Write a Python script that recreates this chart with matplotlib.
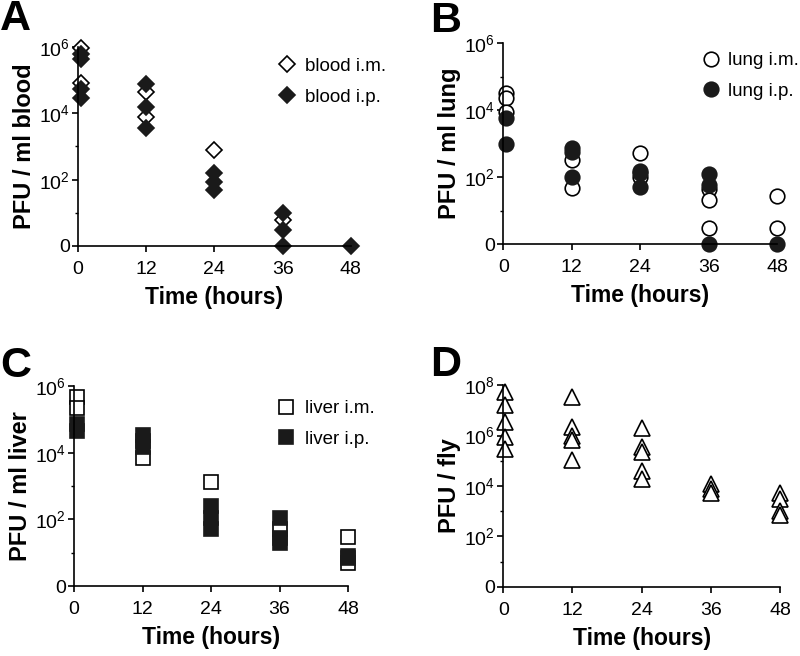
import numpy as np
import matplotlib
matplotlib.use('Agg')
import matplotlib.pyplot as plt
from matplotlib.ticker import FixedLocator, FuncFormatter

plt.rcParams['font.family'] = ['Liberation Sans', 'DejaVu Sans']
plt.rcParams['mathtext.fontset'] = 'custom'
plt.rcParams['mathtext.rm'] = 'Liberation Sans'
plt.rcParams['mathtext.it'] = 'Liberation Sans'

# time points (hours)
times = [0, 12, 24, 36, 48]

# panel A: blood (PFU / ml), one list per time point
blood_im = [[9e5, 8e4], [4.4e4, 8e3], [8e2], [6], []]
blood_ip = [[6e5, 4.2e5, 5.3e4, 2.8e4], [7.5e4, 1.6e4, 3.6e3], [160, 85, 50], [10, 3, 0], [0]]

# panel B: lung
lung_im = [[3.2e4, 2.3e4, 8.7e3], [320, 48], [520, 100], [44, 20, 3], [27, 3]]
lung_ip = [[5.8e3, 1e3], [740, 560, 100], [150, 130, 50], [120, 57, 0], [0]]

# panel C: liver
liver_im = [[4.7e5, 2.2e5], [7e3], [1.3e3], [52], [30, 4.9]]
liver_ip = [[7e4, 4.5e4], [3.5e4, 2.2e4, 1.5e4], [250, 110, 51], [110, 28, 20], [8, 7]]

# panel D: whole fly
fly = [[5.2e7, 1.6e7, 3.5e6, 8.7e5, 3e5],
       [3.3e7, 2.1e6, 9.5e5, 6.6e5, 1.1e5],
       [1.9e6, 3.5e5, 2.2e5, 3.9e4, 1.9e4],
       [1.2e4, 7.4e3, 5.2e3],
       [5.2e3, 3e3, 1e3, 7.4e2]]


def dec(v):
    # log scale with 0 drawn on the baseline
    v = np.asarray(v, dtype=float)
    out = np.zeros_like(v)
    out[v > 0] = np.log10(v[v > 0])
    return out


def flatten(groups, x0_shift):
    xs, ys = [], []
    for t, g in zip(times, groups):
        for v in g:
            xs.append(t + (x0_shift if t == 0 else 0))
            ys.append(v)
    return np.array(xs), dec(ys)


def style_axis(ax, top_dec, ylabel):
    ax.set_xlim(0, 48)
    ax.set_ylim(0, top_dec)
    ax.spines['top'].set_visible(False)
    ax.spines['right'].set_visible(False)
    for s in ['left', 'bottom']:
        ax.spines[s].set_linewidth(1.2)
    ax.set_xticks(times)
    ax.yaxis.set_major_locator(FixedLocator(np.arange(0, top_dec + 1, 2)))
    ax.yaxis.set_minor_locator(FixedLocator(np.arange(1, top_dec, 2)))
    ax.yaxis.set_major_formatter(FuncFormatter(
        lambda y, p: '0' if y == 0 else r'10$^{%d}$' % y))
    ax.tick_params(which='major', length=4, width=1.2, labelsize=14)
    ax.tick_params(axis='x', which='major', pad=6.5)
    ax.tick_params(axis='y', which='major', pad=2)
    ax.tick_params(which='minor', length=2.5, width=1.0)
    ax.set_xlabel('Time (hours)', fontsize=16.5, fontweight='bold', labelpad=6)
    ax.set_ylabel(ylabel, fontsize=17, fontweight='bold', labelpad=2)


fig = plt.figure(figsize=(8, 6.56), dpi=100)
axA = fig.add_axes([0.0975, 0.625, 0.341, 0.3034])
axB = fig.add_axes([0.629, 0.628, 0.3425, 0.3064])
axC = fig.add_axes([0.0925, 0.1067, 0.3425, 0.3049])
axD = fig.add_axes([0.629, 0.1052, 0.346, 0.3079])

leg_kw = dict(frameon=False, fontsize=13.5, handlelength=1.0,
              labelspacing=0.72, borderaxespad=0, borderpad=0, loc='upper left')

# A
x, y = flatten(blood_im, 0.5)
axA.plot(x, y, 'D', ms=8.5, mfc='white', mec='black', mew=1.2, clip_on=False, label='blood i.m.')
x, y = flatten(blood_ip, 0.5)
axA.plot(x, y, 'D', ms=8.5, mfc='#1a1a1a', mec='#1a1a1a', mew=1.2, clip_on=False, label='blood i.p.')
style_axis(axA, 6, 'PFU / ml blood')
axA.legend(bbox_to_anchor=(0.73, 0.945), handletextpad=0.5, **leg_kw)

# B
x, y = flatten(lung_im, 0.5)
axB.plot(x, y, 'o', ms=10.5, mfc='white', mec='black', mew=1.2, clip_on=False, label='lung i.m.')
x, y = flatten(lung_ip, 0.5)
axB.plot(x, y, 'o', ms=10.5, mfc='#1a1a1a', mec='#1a1a1a', mew=1.2, clip_on=False, label='lung i.p.')
style_axis(axB, 6, 'PFU / ml lung')
axB.legend(bbox_to_anchor=(0.725, 0.955), handletextpad=0.4, **leg_kw)

# C
x, y = flatten(liver_im, 0.6)
axC.plot(x, y, 's', ms=9.5, mfc='white', mec='black', mew=1.2, clip_on=False, label='liver i.m.')
x, y = flatten(liver_ip, 0.6)
axC.plot(x, y, 's', ms=9.5, mfc='#1a1a1a', mec='#1a1a1a', mew=1.2, clip_on=False, label='liver i.p.')
style_axis(axC, 6, 'PFU / ml liver')
axC.legend(bbox_to_anchor=(0.74, 0.93), handletextpad=0.5, **leg_kw)

# D
x, y = flatten(fly, 0.3)
axD.plot(x, y, '^', ms=12, mfc='white', mec='black', mew=1.2, clip_on=False)
style_axis(axD, 8, 'PFU / fly')

for lbl, (fx, fy) in zip('ABCD', [(0.0, 0.971), (0.538, 0.968), (0.0, 0.442), (0.538, 0.443)]):
    fig.text(fx, fy, lbl, fontsize=31, fontweight='bold', va='center', ha='left')

fig.savefig('out.png', dpi=100)
